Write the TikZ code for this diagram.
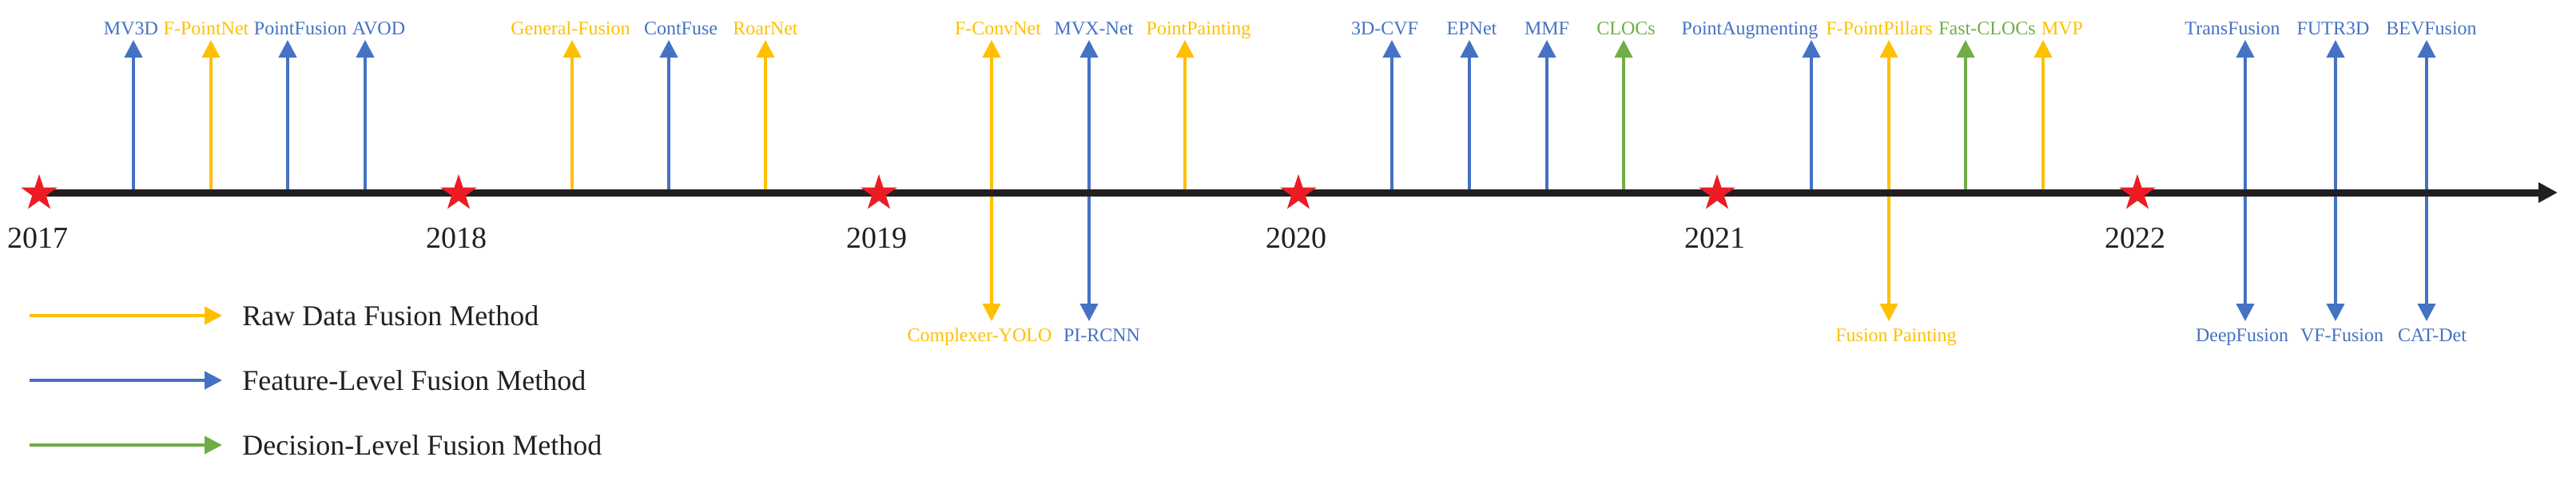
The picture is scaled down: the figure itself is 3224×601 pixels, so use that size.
\documentclass[tikz,border=0pt]{standalone}
\usepackage{fontspec}
\setmainfont{Liberation Serif}
\usetikzlibrary{shapes.geometric,arrows.meta}

\definecolor{rawc}{HTML}{FFC000}
\definecolor{featc}{HTML}{4472C4}
\definecolor{decc}{HTML}{70AD47}
\definecolor{starc}{HTML}{ED1C24}
\definecolor{axisc}{HTML}{231F20}

\tikzset{
    lbl/.style={inner sep=0pt, text height=9pt, text depth=3pt, font=\fontsize{12}{14}\selectfont},
    up/.style={lbl, anchor=south},
    down/.style={lbl, anchor=north, outer sep=3.5pt},
    raw/.style={text=rawc}, feat/.style={text=featc}, dec/.style={text=decc},
    tip/.style={-{Triangle[length=11pt,width=11pt]}},
    rawarr/.style={tip, draw=rawc, line width=2pt},
    featarr/.style={tip, draw=featc, line width=2pt},
    decarr/.style={tip, draw=decc, line width=2pt},
    year/.style={circle, star, star points=5, star point ratio=2.6, fill=starc, minimum size=24pt, inner sep=0pt},
    yearlbl/.style={anchor=base, inner sep=0pt, font=\fontsize{19}{22}\selectfont, text=axisc},
    legend/.style={anchor=west, inner sep=0pt, font=\fontsize{18}{21}\selectfont, text=axisc}
}

\begin{document}
\begin{tikzpicture}[x=0.5pt, y=-0.5pt]
    \useasboundingbox (0,0) rectangle (3224,601);
    % timeline of LiDAR-camera fusion methods, 2017 to 2022
    \coordinate (start) at (49,241);
    \coordinate (end) at (3201,241);

    \coordinate (mv3d-a) at (167,241);   \node[up, feat] (mv3d) at (164,50) {MV3D};
    \coordinate (fpn-a) at (264,241);    \node[up, raw] (fpn) at (258,50) {F-PointNet};
    \coordinate (pf-a) at (360,241);     \node[up, feat] (pf) at (376,50) {PointFusion};
    \coordinate (avod-a) at (457,241);   \node[up, feat] (avod) at (474,50) {AVOD};
    \coordinate (gf-a) at (716,241);     \node[up, raw] (gf) at (714,50) {General-Fusion};
    \coordinate (cf-a) at (837,241);     \node[up, feat] (cf) at (852,50) {ContFuse};
    \coordinate (roar-a) at (958,241);   \node[up, raw] (roar) at (958,50) {RoarNet};
    \coordinate (fcn-a) at (1241,241);   \node[up, raw] (fcn) at (1249,50) {F-ConvNet};
    \coordinate (mvx-a) at (1363,241);   \node[up, feat] (mvx) at (1369,50) {MVX-Net};
    \coordinate (pp-a) at (1483,241);    \node[up, raw] (pp) at (1500,50) {PointPainting};
    \coordinate (cvf-a) at (1742,241);   \node[up, feat] (cvf) at (1733,50) {3D-CVF};
    \coordinate (ep-a) at (1839,241);    \node[up, feat] (ep) at (1842,50) {EPNet};
    \coordinate (mmf-a) at (1936,241);   \node[up, feat] (mmf) at (1936,50) {MMF};
    \coordinate (clocs-a) at (2032,241); \node[up, dec] (clocs) at (2035,50) {CLOCs};
    \coordinate (pa-a) at (2267,241);    \node[up, feat] (pa) at (2190,50) {PointAugmenting};
    \coordinate (fpp-a) at (2364,241);   \node[up, raw] (fpp) at (2352,50) {F-PointPillars};
    \coordinate (fcl-a) at (2460,241);   \node[up, dec] (fcl) at (2487,50) {Fast-CLOCs};
    \coordinate (mvp-a) at (2557,241);   \node[up, raw] (mvp) at (2581,50) {MVP};
    \coordinate (tf-a) at (2810,241);    \node[up, feat] (tf) at (2794,50) {TransFusion};
    \coordinate (futr-a) at (2923,241);  \node[up, feat] (futr) at (2920,50) {FUTR3D};
    \coordinate (bev-a) at (3037,241);   \node[up, feat] (bev) at (3043,50) {BEVFusion};

    \node[down, raw] (cyolo) at (1226,402) {Complexer-YOLO};
    \node[down, feat] (pircnn) at (1379,402) {PI-RCNN};
    \node[down, raw] (fpaint) at (2373,402) {Fusion Painting};
    \node[down, feat] (deep) at (2806,402) {DeepFusion};
    \node[down, feat] (vff) at (2931,402) {VF-Fusion};
    \node[down, feat] (cat) at (3044,402) {CAT-Det};

    \draw[featarr] (mv3d-a) -- (mv3d-a |- mv3d.south);
    \draw[rawarr] (fpn-a) -- (fpn-a |- fpn.south);
    \draw[featarr] (pf-a) -- (pf-a |- pf.south);
    \draw[featarr] (avod-a) -- (avod-a |- avod.south);
    \draw[rawarr] (gf-a) -- (gf-a |- gf.south);
    \draw[featarr] (cf-a) -- (cf-a |- cf.south);
    \draw[rawarr] (roar-a) -- (roar-a |- roar.south);
    \draw[rawarr] (fcn-a) -- (fcn-a |- fcn.south);
    \draw[featarr] (mvx-a) -- (mvx-a |- mvx.south);
    \draw[rawarr] (pp-a) -- (pp-a |- pp.south);
    \draw[featarr] (cvf-a) -- (cvf-a |- cvf.south);
    \draw[featarr] (ep-a) -- (ep-a |- ep.south);
    \draw[featarr] (mmf-a) -- (mmf-a |- mmf.south);
    \draw[decarr] (clocs-a) -- (clocs-a |- clocs.south);
    \draw[featarr] (pa-a) -- (pa-a |- pa.south);
    \draw[rawarr] (fpp-a) -- (fpp-a |- fpp.south);
    \draw[decarr] (fcl-a) -- (fcl-a |- fcl.south);
    \draw[rawarr] (mvp-a) -- (mvp-a |- mvp.south);
    \draw[featarr] (tf-a) -- (tf-a |- tf.south);
    \draw[featarr] (futr-a) -- (futr-a |- futr.south);
    \draw[featarr] (bev-a) -- (bev-a |- bev.south);

    \draw[rawarr] (fcn-a) -- (fcn-a |- cyolo.north);
    \draw[featarr] (mvx-a) -- (mvx-a |- pircnn.north);
    \draw[rawarr] (fpp-a) -- (fpp-a |- fpaint.north);
    \draw[featarr] (tf-a) -- (tf-a |- deep.north);
    \draw[featarr] (futr-a) -- (futr-a |- vff.north);
    \draw[featarr] (bev-a) -- (bev-a |- cat.north);

    \draw[axisc, line width=4.5pt, -{Triangle[length=12pt,width=12pt]}] (start) -- (end);

    \node[year] (s2017) at (49,242) {};   \node[yearlbl] (y2017) at (48,310) {2017};
    \node[year] (s2018) at (574,242) {};  \node[yearlbl] (y2018) at (571,310) {2018};
    \node[year] (s2019) at (1100,242) {}; \node[yearlbl] (y2019) at (1097,310) {2019};
    \node[year] (s2020) at (1625,242) {}; \node[yearlbl] (y2020) at (1622,310) {2020};
    \node[year] (s2021) at (2149,242) {}; \node[yearlbl] (y2021) at (2146,310) {2021};
    \node[year] (s2022) at (2675,242) {}; \node[yearlbl] (y2022) at (2672,310) {2022};

    % legend
    \coordinate (rawl) at (37,395);
    \coordinate (featl) at (37,476);
    \coordinate (decl) at (37,557);
    \node[legend] (rawt) at (303,395) {Raw Data Fusion Method};
    \node[legend] (featt) at (303,476) {Feature-Level Fusion Method};
    \node[legend] (dect) at (303,557) {Decision-Level Fusion Method};
    \draw[rawarr, shorten >=12.5pt] (rawl) -- (rawt.west);
    \draw[featarr, shorten >=12.5pt] (featl) -- (featt.west);
    \draw[decarr, shorten >=12.5pt] (decl) -- (dect.west);
\end{tikzpicture}
\end{document}
